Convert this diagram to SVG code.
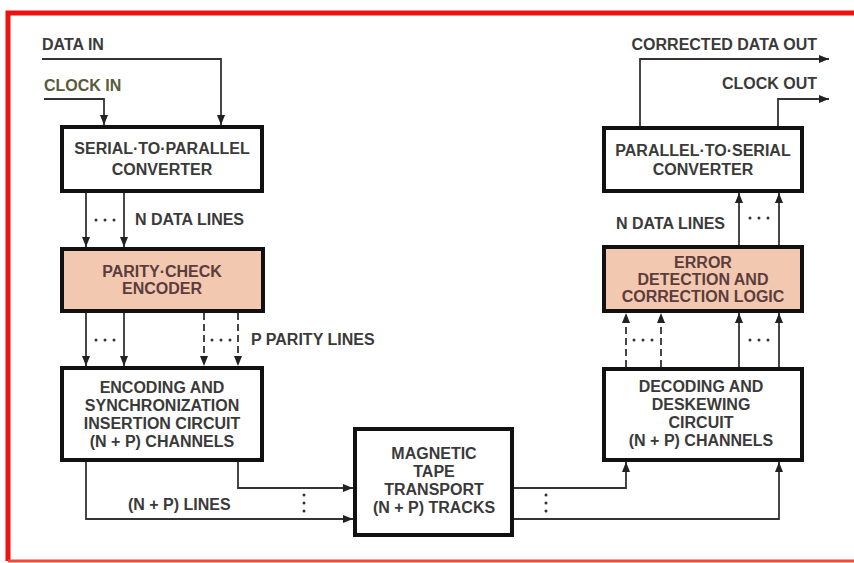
<svg xmlns="http://www.w3.org/2000/svg" width="854" height="563" viewBox="0 0 854 563">
<defs>
<marker id="ah" viewBox="0 0 10 8" refX="10" refY="4" markerWidth="10" markerHeight="8" markerUnits="userSpaceOnUse" orient="auto">
<path d="M0,0 L10,4 L0,8 z" fill="#222"/>
</marker>
<style>
.box{fill:#fff;stroke:#111;stroke-width:4}
.hot{fill:#f2c9b0;stroke:#111;stroke-width:4}
.t{font-family:"Liberation Sans",Arial,sans-serif;font-weight:bold;font-size:16px;fill:#3a3a3a}
.m{text-anchor:middle}
.b{fill:#5c3c3c}
.ol{fill:#5b5b3c}
.c{fill:none;stroke:#333;stroke-width:1.8}
.a{marker-end:url(#ah)}
.d{stroke-dasharray:7 4}
.dot{fill:#333}
</style>
</defs>
<rect width="854" height="563" fill="#fff"/>
<path d="M8,561 V13 H854" fill="none" stroke="#ee1111" stroke-width="5"/>
<path d="M8,561 H854" fill="none" stroke="#f04a3a" stroke-width="3"/>

<g id="connectors">
<path class="c a" d="M42,59 H221 V125"/>
<path class="c a" d="M44,99 H104 V125"/>
<path class="c a" d="M86,193 V247"/>
<path class="c a" d="M124,193 V247"/>
<path class="c a" d="M86,313 V366"/>
<path class="c a" d="M124,313 V366"/>
<path class="c a d" d="M204,313 V366"/>
<path class="c a d" d="M238,313 V366"/>
<path class="c a" d="M238,462 V488 H353"/>
<path class="c a" d="M86,462 V519 H353"/>
<path class="c a" d="M514,488 H626 V462"/>
<path class="c a" d="M514,519 H779 V462"/>
<path class="c a d" d="M626,367 V313"/>
<path class="c a d" d="M661,367 V313"/>
<path class="c a" d="M739,367 V313"/>
<path class="c a" d="M779,367 V313"/>
<path class="c a" d="M739,245 V193"/>
<path class="c a" d="M779,245 V193"/>
<path class="c a" d="M640,126 V59 H829"/>
<path class="c a" d="M778,126 V99 H829"/>
<g class="dot">
<circle cx="96" cy="220" r="1.5"/><circle cx="105" cy="220" r="1.5"/><circle cx="114" cy="220" r="1.5"/>
<circle cx="96" cy="340" r="1.5"/><circle cx="105" cy="340" r="1.5"/><circle cx="114" cy="340" r="1.5"/>
<circle cx="212" cy="340" r="1.5"/><circle cx="221" cy="340" r="1.5"/><circle cx="230" cy="340" r="1.5"/>
<circle cx="634" cy="340" r="1.5"/><circle cx="643" cy="340" r="1.5"/><circle cx="652" cy="340" r="1.5"/>
<circle cx="750" cy="340" r="1.5"/><circle cx="759" cy="340" r="1.5"/><circle cx="768" cy="340" r="1.5"/>
<circle cx="750" cy="218" r="1.5"/><circle cx="759" cy="218" r="1.5"/><circle cx="768" cy="218" r="1.5"/>
<circle cx="304" cy="495" r="1.5"/><circle cx="304" cy="503" r="1.5"/><circle cx="304" cy="511" r="1.5"/>
<circle cx="546" cy="495" r="1.5"/><circle cx="546" cy="503" r="1.5"/><circle cx="546" cy="511" r="1.5"/>
</g>
<text class="t" x="42" y="50">DATA IN</text>
<text class="t ol" x="44" y="91">CLOCK IN</text>
<text class="t" x="135" y="225">N DATA LINES</text>
<text class="t" x="251" y="345">P PARITY LINES</text>
<text class="t" x="128" y="510">(N + P) LINES</text>
<text class="t" x="616" y="229">N DATA LINES</text>
<text class="t" x="817" y="50" text-anchor="end">CORRECTED DATA OUT</text>
<text class="t" x="817" y="89" text-anchor="end">CLOCK OUT</text>
</g>

<g id="serial-to-parallel">
<rect class="box" x="62" y="127" width="200" height="64"/>
<text class="t m" x="162" y="154">SERIAL·TO·PARALLEL</text>
<text class="t m" x="162" y="175">CONVERTER</text>
</g>
<g id="parity-check-encoder">
<rect class="hot" x="62" y="249" width="201" height="62"/>
<text class="t m b" x="162" y="277">PARITY·CHECK</text>
<text class="t m b" x="162" y="294">ENCODER</text>
</g>
<g id="encoding-circuit">
<rect class="box" x="62" y="368" width="200" height="92"/>
<text class="t m" x="162" y="393">ENCODING AND</text>
<text class="t m" x="162" y="411">SYNCHRONIZATION</text>
<text class="t m" x="162" y="429">INSERTION CIRCUIT</text>
<text class="t m" x="162" y="447">(N + P) CHANNELS</text>
</g>
<g id="magnetic-tape">
<rect class="box" x="355" y="429" width="157" height="106"/>
<text class="t m" x="434" y="459">MAGNETIC</text>
<text class="t m" x="434" y="477">TAPE</text>
<text class="t m" x="434" y="495">TRANSPORT</text>
<text class="t m" x="434" y="513">(N + P) TRACKS</text>
</g>
<g id="decoding-circuit">
<rect class="box" x="604" y="369" width="198" height="91"/>
<text class="t m" x="701" y="392">DECODING AND</text>
<text class="t m" x="701" y="410">DESKEWING</text>
<text class="t m" x="701" y="428">CIRCUIT</text>
<text class="t m" x="701" y="446">(N + P) CHANNELS</text>
</g>
<g id="error-correction">
<rect class="hot" x="604" y="247" width="198" height="64"/>
<text class="t m b" x="703" y="268">ERROR</text>
<text class="t m b" x="703" y="285">DETECTION AND</text>
<text class="t m b" x="703" y="302">CORRECTION LOGIC</text>
</g>
<g id="parallel-to-serial">
<rect class="box" x="604" y="128" width="198" height="63"/>
<text class="t m" x="703" y="156">PARALLEL·TO·SERIAL</text>
<text class="t m" x="703" y="175">CONVERTER</text>
</g>
</svg>
